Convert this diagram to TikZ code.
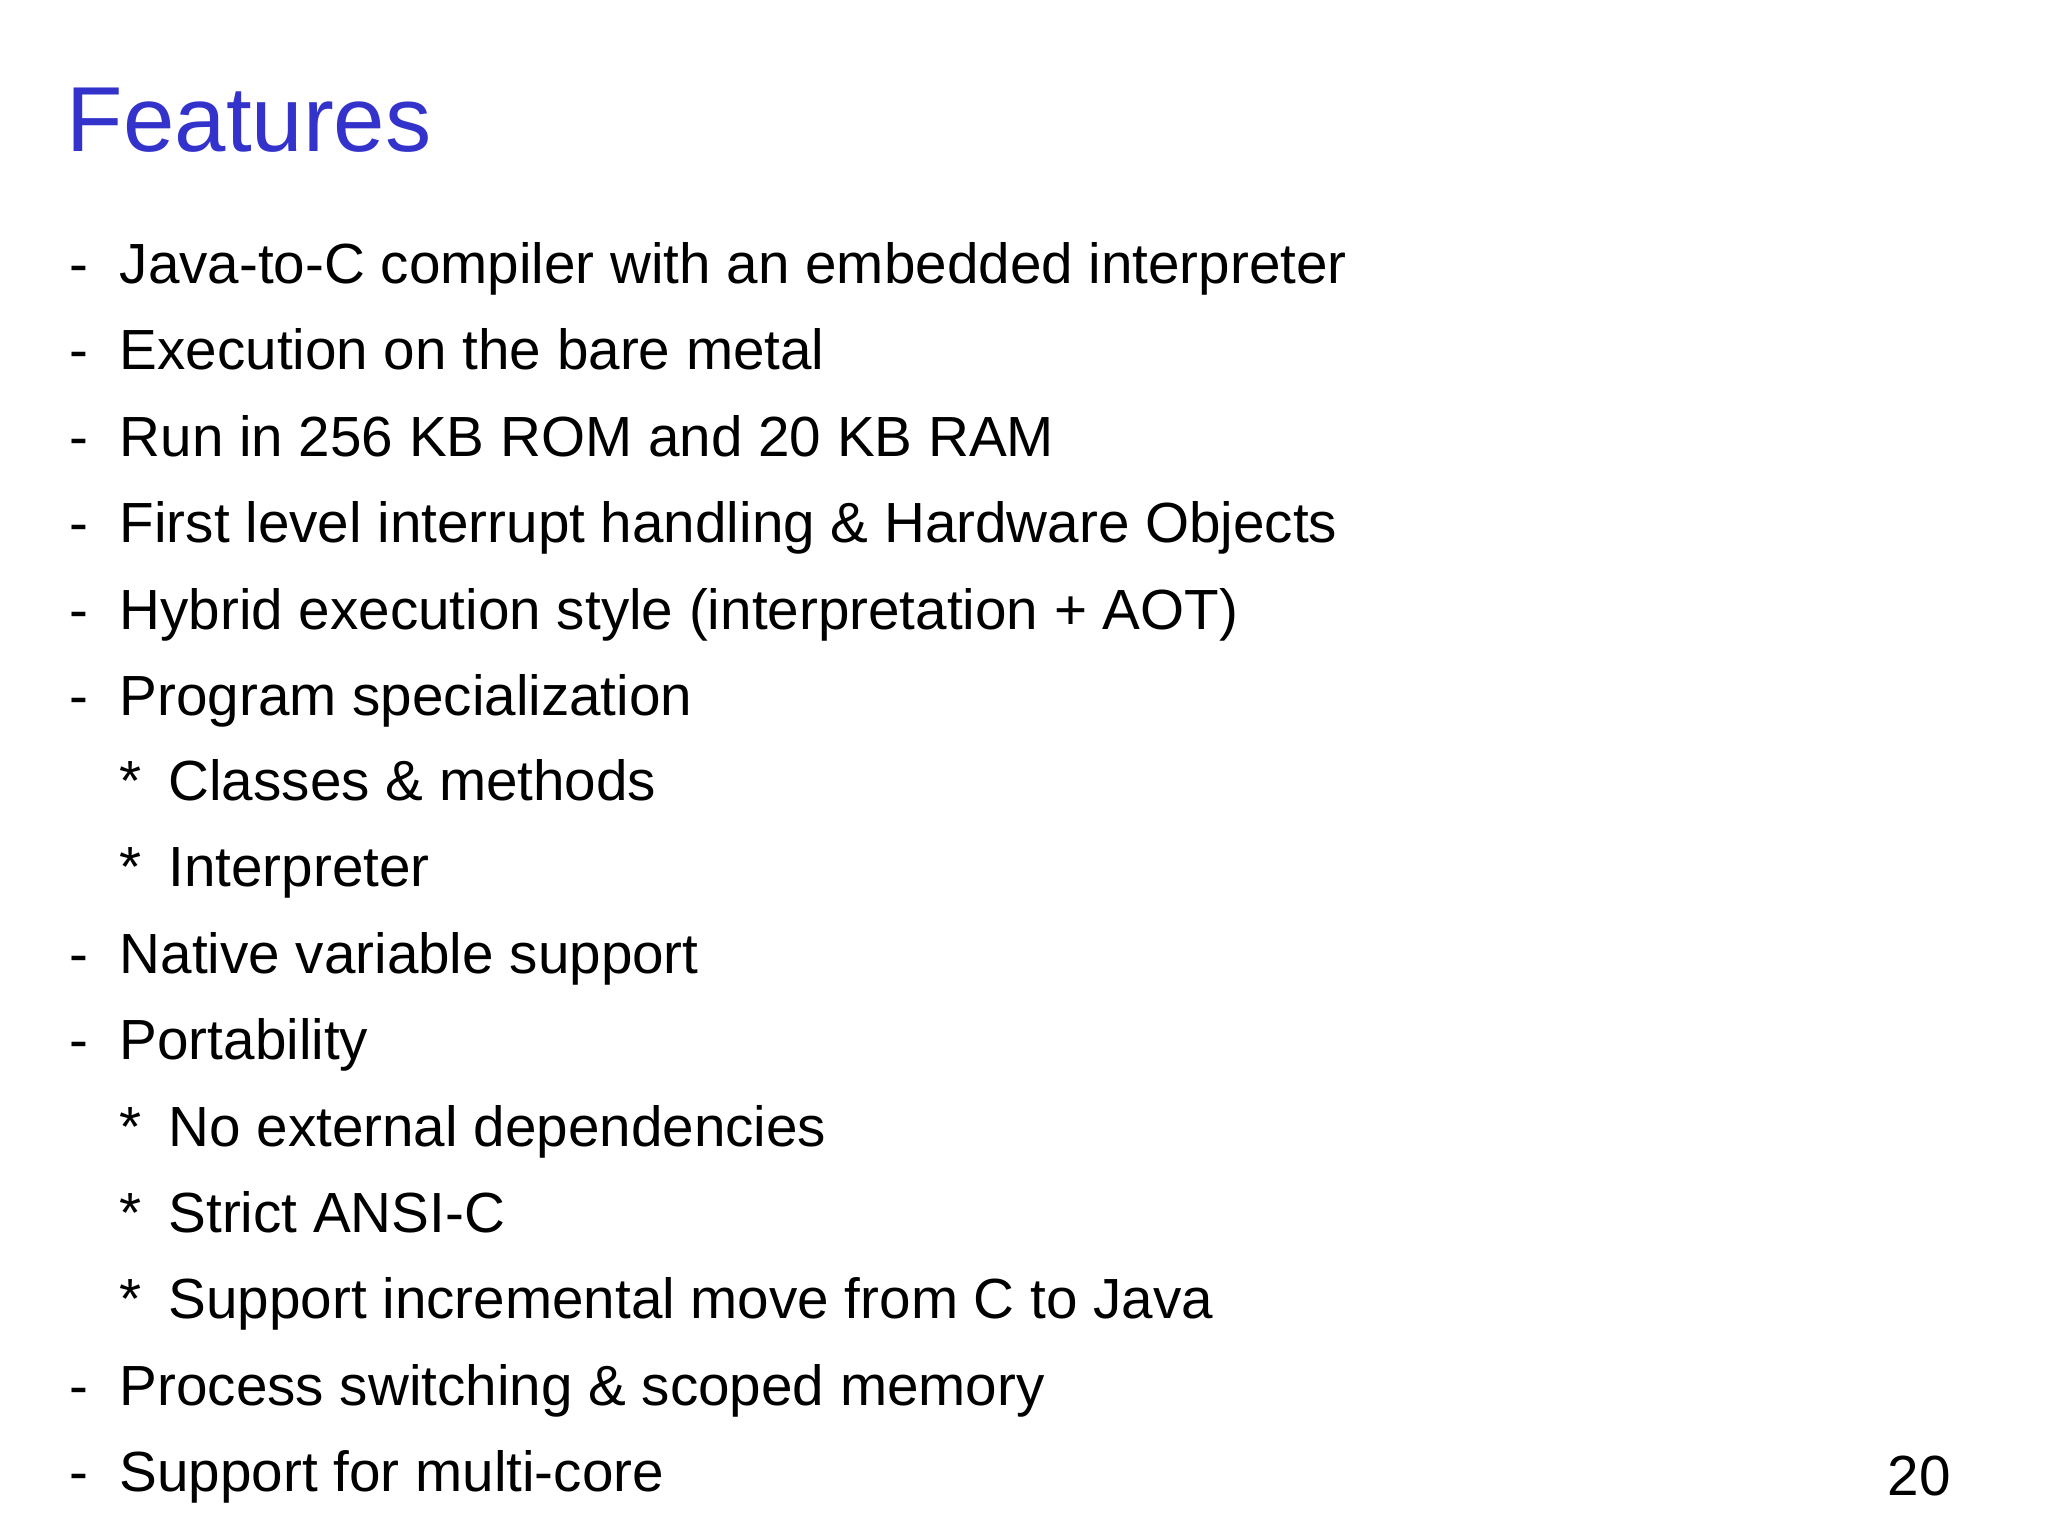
\documentclass[tikz,border=0pt]{standalone}
\usepackage{fontspec}
\setmainfont{Liberation Sans}
\definecolor{titleblue}{RGB}{51,51,204}
\begin{document}
\begin{tikzpicture}[x=0.01cm,y=-0.01cm,
  body/.style={anchor=base west,inner sep=0pt,font=\fontsize{12.2pt}{14pt}\selectfont},
  ttl/.style={anchor=base west,inner sep=0pt,text=titleblue,font=\fontsize{19.9pt}{22pt}\selectfont}]
\useasboundingbox[fill=white] (0,0) rectangle (1552,1164);
\node[ttl] (title) at (50,115) {Features};
\foreach \y/\t [count=\i] in {215/Java-to-C compiler with an embedded interpreter,
  280/Execution on the bare metal,
  346/Run in 256 KB ROM and 20 KB RAM,
  411/First level interrupt handling \& Hardware Objects,
  477/Hybrid execution style (interpretation + AOT),
  542/Program specialization,
  738/Native variable support,
  803/Portability,
  1065/Process switching \& scoped memory,
  1130/Support for multi-core}{
  \node[body] (d\i) at (52,\y) {-};
  \node[body] (t\i) at (90,\y) {\t};
}
\foreach \y/\t [count=\i] in {607/Classes \& methods,
  672/Interpreter,
  869/No external dependencies,
  934/Strict ANSI-C,
  999/Support incremental move from C to Java}{
  \node[body] (s\i) at (90,\y) {*};
  \node[body] (u\i) at (127,\y) {\t};
}
\node[body] (page) at (1430,1133) {20};
\end{tikzpicture}
\end{document}
